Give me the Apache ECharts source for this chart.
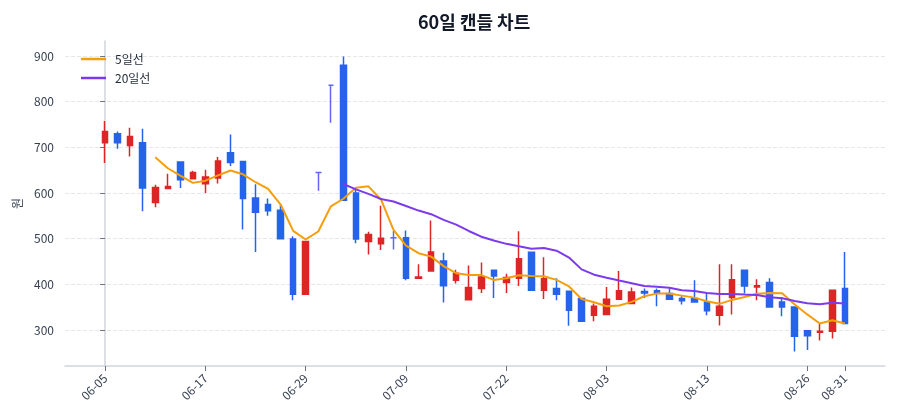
<!DOCTYPE html>
<html>
<head>
<meta charset="utf-8">
<script src="https://cdn.jsdelivr.net/npm/echarts@6.0.0/dist/echarts.min.js"></script>
<style>
  html, body { margin: 0; padding: 0; background: #fff; }
  #chart { width: 900px; height: 420px; }
</style>
</head>
<body>
<div id="chart"></div>
<script>
// 날짜 (60거래일)
var dates = ['06-05','06-08','06-09','06-10','06-11','06-12','06-15','06-16','06-17','06-18',
  '06-19','06-22','06-23','06-24','06-25','06-26','06-29','06-30','07-01','07-02',
  '07-03','07-06','07-07','07-08','07-09','07-10','07-13','07-14','07-15','07-16',
  '07-20','07-21','07-22','07-23','07-24','07-27','07-28','07-29','07-30','07-31',
  '08-03','08-04','08-05','08-06','08-07','08-10','08-11','08-12','08-13','08-14',
  '08-18','08-19','08-20','08-21','08-24','08-25','08-26','08-27','08-28','08-31'];

var opens  = [710,730,704,710,579,610,668,631,620,633, 688,669,589,575,562,499,378,645,836,880,
  600,494,489,502,502,413,429,451,409,366, 391,431,404,413,470,387,391,385,369,332,
  334,367,358,384,386,380,369,369,361,332, 371,431,394,404,361,350,298,295,297,391];
var closes = [735,710,724,611,612,614,629,645,635,670, 667,588,558,561,500,378,494,645,836,584,
  499,509,501,502,413,416,471,397,424,393, 416,418,415,456,387,412,378,343,319,352,
  367,386,383,381,381,367,364,361,342,352, 410,396,397,350,350,286,287,297,387,314];
var lows   = [666,697,680,560,569,610,611,630,600,621, 659,520,471,550,500,365,378,605,754,584,
  490,465,475,476,409,413,429,360,402,366, 381,370,381,396,387,368,365,309,319,319,
  334,367,358,370,352,367,356,361,332,310, 334,380,365,350,330,253,256,277,281,314];
var highs  = [758,735,743,741,618,642,669,649,651,679, 728,669,619,588,575,505,494,645,836,899,
  610,515,572,517,518,444,540,469,432,441, 448,431,423,516,470,459,413,385,369,358,
  394,429,393,391,391,391,374,409,380,444, 444,431,411,413,372,350,298,315,387,471];

// 이동평균선
var ma5 = [null,null,null,null,678.4,654.2,638.0,622.2,627.0,638.6,
  649.2,641.0,623.6,608.8,574.8,517.0,498.2,515.6,570.6,587.4,
  611.6,614.6,585.8,519.0,484.8,468.2,460.6,439.8,424.2,420.2,
  420.2,409.6,413.2,419.6,418.4,417.6,409.6,395.2,367.8,360.8,
  351.8,353.4,361.4,373.8,379.6,379.6,375.2,370.8,363.0,357.2,
  365.8,372.2,379.4,381.0,380.6,355.8,334.0,314.0,321.4,314.2];
var ma20 = [null,null,null,null,null,null,null,null,null,null,
  null,null,null,null,null,null,null,null,null,619.8,
  608.0,598.0,586.8,581.4,571.4,561.5,553.6,541.2,530.7,516.8,
  504.3,495.8,488.6,483.4,477.7,479.4,473.6,458.5,432.7,421.1,
  414.5,408.3,402.4,396.4,394.8,392.3,387.0,385.2,381.1,379.0,
  378.7,377.6,376.7,371.4,369.6,363.3,358.7,356.4,359.8,357.9];

var xTickIdx = [0, 8, 16, 24, 32, 40, 48, 56, 59];
var yTicks = [300, 400, 500, 600, 700, 800, 900];

var font = 'Noto Sans CJK KR';

var candleData = [];
for (var i = 0; i < dates.length; i++) {
  candleData.push([i, opens[i], closes[i], lows[i], highs[i]]);
}
function toPairs(arr) {
  var out = [];
  for (var i = 0; i < arr.length; i++) {
    if (arr[i] != null) out.push([i, arr[i]]);
  }
  return out;
}

var myChart = echarts.init(document.getElementById('chart'));
myChart.setOption({
  animation: false,
  textStyle: { fontFamily: font },
  title: {
    text: '60일 캔들 차트',
    left: 413,
    top: 8,
    textStyle: { fontSize: 18, fontWeight: 'bold', color: '#111827', fontFamily: font }
  },
  legend: {
    orient: 'vertical',
    left: 76,
    top: 47,
    icon: 'rect',
    itemWidth: 25,
    itemHeight: 2.5,
    itemGap: 5,
    data: ['5일선', '20일선'],
    textStyle: { fontSize: 12, lineHeight: 14, color: '#1f2937', fontFamily: font, padding: [0, 0, 0, 4] }
  },
  grid: { left: 65, right: 15, top: 41, bottom: 54 },
  xAxis: {
    type: 'value',
    min: -3.2,
    max: 62.2,
    splitLine: { show: false },
    axisLine: { show: true, lineStyle: { color: '#d1d5db', width: 1.5 } },
    axisTick: { show: true, customValues: xTickIdx, length: 5, lineStyle: { color: '#6b7280' } },
    axisLabel: {
      customValues: xTickIdx,
      rotate: 45,
      margin: 10,
      fontSize: 12,
      color: '#374151',
      fontFamily: font,
      formatter: function (v) { return dates[Math.round(v)]; }
    }
  },
  yAxis: {
    type: 'value',
    min: 221,
    max: 933,
    name: '원',
    nameLocation: 'middle',
    nameGap: 40,
    nameTextStyle: { fontSize: 12, color: '#374151', fontFamily: font },
    axisLine: { show: true, lineStyle: { color: '#d1d5db', width: 1.5 } },
    axisTick: { show: true, customValues: yTicks, length: 5, lineStyle: { color: '#6b7280' } },
    axisLabel: { customValues: yTicks, margin: 11, fontSize: 12, color: '#374151', fontFamily: font },
    splitLine: { show: true, lineStyle: { color: '#e5e7eb', type: 'dashed', width: 1 } }
  },
  series: [
    {
      name: '캔들',
      type: 'candlestick',
      barWidth: 6,
      data: candleData,
      itemStyle: {
        color: '#dc2626',
        color0: '#2563eb',
        borderColor: '#dc2626',
        borderColor0: '#2563eb',
        borderColorDoji: '#6366f1',
        borderWidth: 1.5
      }
    },
    {
      name: '5일선',
      type: 'line',
      data: toPairs(ma5),
      symbol: 'none',
      showSymbol: false,
      lineStyle: { color: '#f59e0b', width: 2 },
      itemStyle: { color: '#f59e0b' }
    },
    {
      name: '20일선',
      type: 'line',
      data: toPairs(ma20),
      symbol: 'none',
      showSymbol: false,
      lineStyle: { color: '#7c3aed', width: 2 },
      itemStyle: { color: '#7c3aed' }
    }
  ]
});
window.onresize = myChart.resize;
</script>
</body>
</html>
